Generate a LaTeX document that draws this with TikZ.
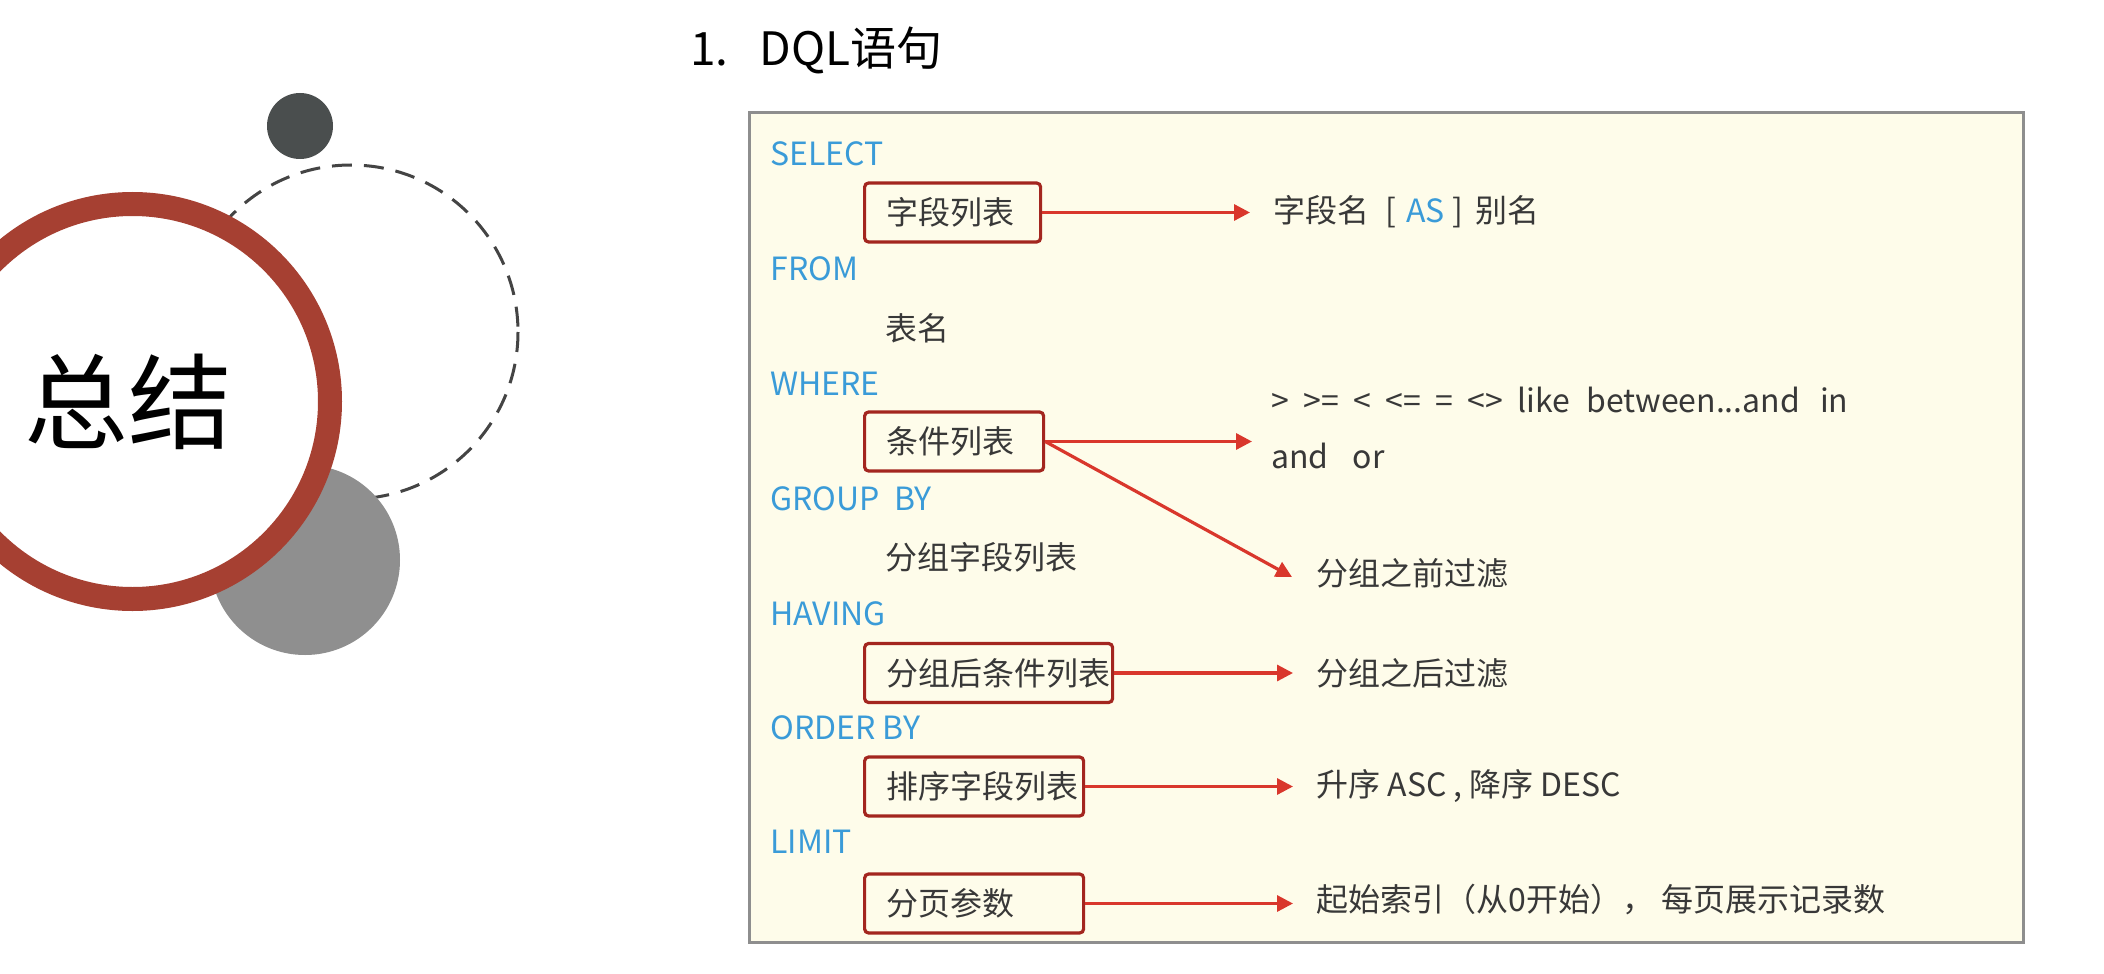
\documentclass[tikz,border=0pt]{standalone}
\usepackage{fontspec}
\setmainfont{Noto Sans CJK SC}
\usetikzlibrary{arrows.meta}

\definecolor{kwblue}{HTML}{3A9BD8}
\definecolor{inkgray}{HTML}{383838}
\definecolor{panelfill}{HTML}{FEFCEA}
\definecolor{panelline}{HTML}{8E8E8E}
\definecolor{boxred}{HTML}{A3261F}
\definecolor{arrowred}{HTML}{D9372C}
\definecolor{ringred}{HTML}{A64032}
\definecolor{dotdark}{HTML}{4A4E4E}
\definecolor{dotgray}{HTML}{8F8F8F}
\definecolor{dashgray}{HTML}{444444}

\newcommand{\opgap}{\hspace{7.2pt}}

\begin{document}
\begin{tikzpicture}[x=0.5pt,y=-0.5pt,
  kw/.style={anchor=west,inner sep=0pt,text=kwblue,font=\fontsize{16pt}{19pt}\selectfont},
  txt/.style={anchor=west,inner sep=0pt,text=inkgray,font=\fontsize{16pt}{19pt}\selectfont},
  fbox/.style={anchor=west,draw=boxred,line width=1.6pt,rounded corners=2pt,
    inner xsep=11pt,inner ysep=0pt,minimum height=29.5pt,text=inkgray,
    font=\fontsize{16pt}{19pt}\selectfont},
  arr/.style={draw=arrowred,line width=1.6pt,-{Triangle[length=8pt,width=8pt]}}
]
\useasboundingbox (0,0) rectangle (2104,974);
\fill[white] (0,0) rectangle (2104,974);

% decorative circles on the left
\draw[dashgray,line width=1.5pt,dash pattern=on 10pt off 6pt] (351,332) circle[radius=167];
\fill[dotdark] (300,126) circle[radius=33];
\fill[dotgray] (305,560) circle[radius=95];
\draw[ringred,line width=12pt,fill=white] (132.5,401.5) circle[radius=197.5];
\node[inner sep=0pt,text=black,font=\fontsize{52pt}{60pt}\selectfont] (sum) at (129,402) {总结};

% heading
\node[anchor=west,inner sep=0pt,text=black,font=\fontsize{23pt}{28pt}\selectfont] (title) at (690,50) {1.\hspace{15.5pt}DQL语句};

% panel
\draw[panelline,line width=1.5pt,fill=panelfill] (749,113) rectangle (2023,942);

% clause keywords
\node[kw] (kSelect) at (770,154) {SELECT};
\node[kw] (kFrom)   at (770,269) {FROM};
\node[kw] (kWhere)  at (770,384) {WHERE};
\node[kw] (kGroup)  at (770,499) {GROUP\ \ BY};
\node[kw] (kHaving) at (770,614) {HAVING};
\node[kw] (kOrder)  at (770,728) {ORDER BY};
\node[kw] (kLimit)  at (770,842) {LIMIT};

% clause contents
\node[fbox,minimum width=88pt]    (bField)  at (863,212.5) {\makebox[66pt][l]{字段列表}};
\node[txt] (tTable) at (885,328) {表名};
\node[fbox,minimum width=89.5pt]  (bCond)   at (863,441.5) {\makebox[67.5pt][l]{条件列表}};
\node[txt] (tGroupField) at (885,557) {分组字段列表};
\node[fbox,minimum width=124pt]   (bHaving) at (863,673)   {\makebox[102pt][l]{分组后条件列表}};
\node[fbox,minimum width=109.5pt] (bOrder)  at (863,786.5) {\makebox[87.5pt][l]{排序字段列表}};
\node[fbox,minimum width=109.5pt] (bLimit)  at (863,903.5) {\makebox[87.5pt][l]{分页参数}};

% explanations
\node[txt] (tAlias)  at (1273,212) {字段名\hspace{8pt}[\hspace{5pt}{\color{kwblue}AS}\hspace{4pt}]\hspace{6pt}别名};
\node[txt] (tOps)    at (1271,400) {>\opgap>=\opgap<\opgap<=\opgap=\opgap<>\opgap like\hspace{8pt}between...and\hspace{10pt}in};
\node[txt] (tLogic)  at (1271,456) {and\hspace{12pt}or};
\coordinate (cCond) at (1252,441.5);
\node[txt] (tBefore) at (1316,573) {分组之前过滤};
\node[txt] (tAfter)  at (1316,673) {分组之后过滤};
\node[txt] (tSort)   at (1316,786) {升序 ASC , 降序 DESC};
\node[txt] (tPage)   at (1316,900) {起始索引（从0开始）， 每页展示记录数};

% connectors
\draw[arr] (bField.east) -- ([xshift=-11.5pt]tAlias.west |- bField.east);
\draw[arr] (bCond.east) -- (cCond);
\draw[arr] (bCond.east) -- ([xshift=-12pt,yshift=-2pt]tBefore.west);
\draw[arr] (bHaving.east) -- ([xshift=-11.5pt]tAfter.west |- bHaving.east);
\draw[arr] (bOrder.east) -- ([xshift=-11.5pt]tSort.west |- bOrder.east);
\draw[arr] (bLimit.east) -- ([xshift=-11.5pt]tPage.west |- bLimit.east);
\end{tikzpicture}
\end{document}
